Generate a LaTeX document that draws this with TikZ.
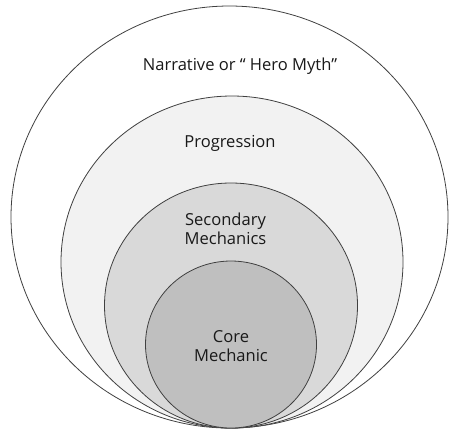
\documentclass[tikz,border=0pt]{standalone}
\usepackage{fontspec}
\setmainfont{Open Sans}
\definecolor{edge}{HTML}{404040}
\definecolor{fillA}{HTML}{F2F2F2}
\definecolor{fillB}{HTML}{D9D9D9}
\definecolor{fillC}{HTML}{BFBFBF}
\begin{document}
\begin{tikzpicture}[x=1bp,y=-1bp,
  ring/.style={draw=edge,line width=0.8bp},
  lbl/.style={font=\fontsize{16.6}{19}\selectfont,text=black!90,align=center,inner sep=0pt}]
\useasboundingbox (0,0) rectangle (449,430);
\fill[white] (0,0) rectangle (449,430);
\draw[ring,fill=white] (229.5,217) ellipse [x radius=218.5,y radius=211];
\draw[ring,fill=fillA] (232,262) ellipse [x radius=171,y radius=166];
\draw[ring,fill=fillB] (231,305.5) ellipse [x radius=126.5,y radius=122.5];
\draw[ring,fill=fillC] (231,344.5) ellipse [x radius=85.5,y radius=83.5];
\node[lbl] (narr) at (240,66) {Narrative or “ Hero Myth”};
\node[lbl] (prog) at (230,143) {Progression};
\node[lbl] (sec) at (225.5,229) {Secondary\\Mechanics};
\node[lbl] (core) at (231,346.5) {Core\\Mechanic};
\end{tikzpicture}
\end{document}
